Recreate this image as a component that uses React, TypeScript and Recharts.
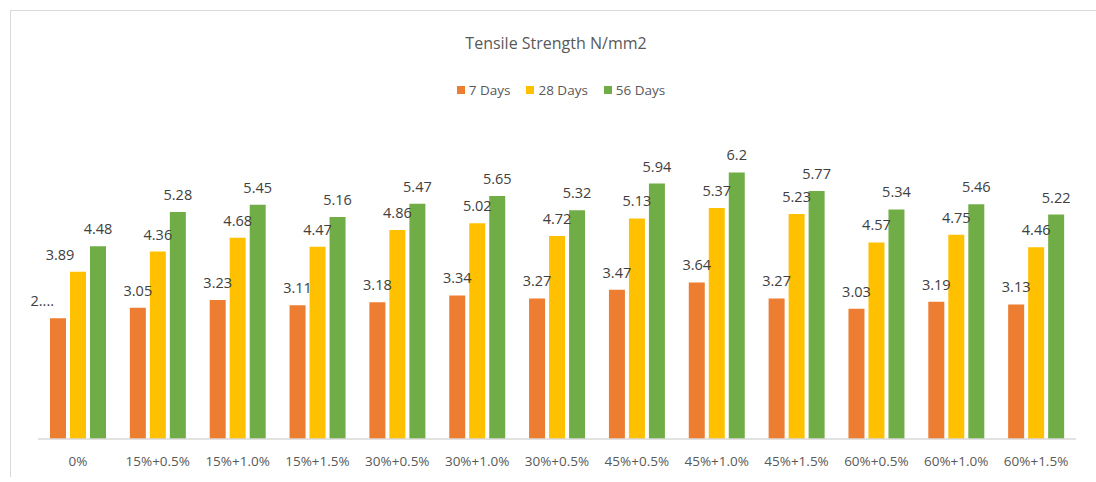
import React from "react";
import { BarChart, Bar, XAxis, YAxis, LabelList } from "recharts";

const categories = [
  "0%", "15%+0.5%", "15%+1.0%", "15%+1.5%", "30%+0.5%", "30%+1.0%", "30%+0.5%",
  "45%+0.5%", "45%+1.0%", "45%+1.5%", "60%+0.5%", "60%+1.0%", "60%+1.5%",
];
const days7 = [2.81, 3.05, 3.23, 3.11, 3.18, 3.34, 3.27, 3.47, 3.64, 3.27, 3.03, 3.19, 3.13];
const days28 = [3.89, 4.36, 4.68, 4.47, 4.86, 5.02, 4.72, 5.13, 5.37, 5.23, 4.57, 4.75, 4.46];
const days56 = [4.48, 5.28, 5.45, 5.16, 5.47, 5.65, 5.32, 5.94, 6.2, 5.77, 5.34, 5.46, 5.22];

const series = [
  { key: "d7", name: "7 Days", color: "#ED7D31" },
  { key: "d28", name: "28 Days", color: "#FFC000" },
  { key: "d56", name: "56 Days", color: "#70AD47" },
];

const data = categories.map((c, i) => ({
  cat: c,
  d7: days7[i],
  d28: days28[i],
  d56: days56[i],
}));

const FONT = "'Open Sans', 'Noto Sans', sans-serif";

// Excel truncates / nudges a couple of labels in the first group
const makeLabel = (seriesKey: string) => (props: any) => {
  const { x, y, width, value, index } = props;
  let text = String(value);
  let cx = x + width / 2;
  let anchor: "middle" | "end" = "middle";
  if (seriesKey === "d7" && index === 0) {
    text = "2....";
    cx = x + 4;
    anchor = "end";
  }
  if (seriesKey === "d28" && index === 0) {
    cx = cx - 18;
  }
  return (
    <text
      x={cx}
      y={y - 12}
      textAnchor={anchor}
      fill="#404040"
      fontSize={14.5}
      fontFamily={FONT}
    >
      {text}
    </text>
  );
};

export default function App() {
  return (
    <div
      style={{
        position: "absolute",
        left: 0,
        top: 0,
        width: 1096,
        height: 482,
        background: "#fff",
        overflow: "hidden",
      }}
    >
      {/* chart frame (only top/left edges visible) */}
      <div
        style={{
          position: "absolute",
          left: 10,
          top: 10,
          width: 1100,
          height: 466,
          borderTop: "1px solid #d9d9d9",
          borderLeft: "1px solid #d9d9d9",
        }}
      />
      <div
        style={{
          position: "absolute",
          top: 32,
          left: 0,
          width: 1112,
          textAlign: "center",
          fontFamily: FONT,
          fontSize: 16,
          color: "#595959",
        }}
      >
        Tensile Strength N/mm2
      </div>
      <div
        style={{
          position: "absolute",
          top: 81,
          left: 0,
          width: 1122,
          display: "flex",
          justifyContent: "center",
          gap: 16,
          fontFamily: FONT,
          fontSize: 13.5,
          color: "#595959",
        }}
      >
        {series.map((s) => (
          <span key={s.key} style={{ display: "flex", alignItems: "center" }}>
            <span
              style={{
                display: "inline-block",
                width: 8,
                height: 8,
                background: s.color,
                marginRight: 4,
              }}
            />
            {s.name}
          </span>
        ))}
      </div>
      <div style={{ position: "absolute", left: 0, top: 0 }}>
        <BarChart
          width={1096}
          height={482}
          data={data}
          margin={{ top: 138, right: 20, bottom: 13, left: 38 }}
          barSize={16}
          barGap={4}
        >
          <XAxis
            dataKey="cat"
            height={30}
            tickLine={false}
            tickSize={0}
            tickMargin={17}
            axisLine={{ stroke: "#d9d9d9", strokeWidth: 1.5 }}
            tick={{ fill: "#595959", fontSize: 13.5, fontFamily: FONT }}
            interval={0}
          />
          <YAxis hide domain={[0, 7]} />
          {series.map((s) => (
            <Bar
              key={s.key}
              dataKey={s.key}
              name={s.name}
              fill={s.color}
              isAnimationActive={false}
            >
              <LabelList dataKey={s.key} content={makeLabel(s.key)} />
            </Bar>
          ))}
        </BarChart>
      </div>
    </div>
  );
}
